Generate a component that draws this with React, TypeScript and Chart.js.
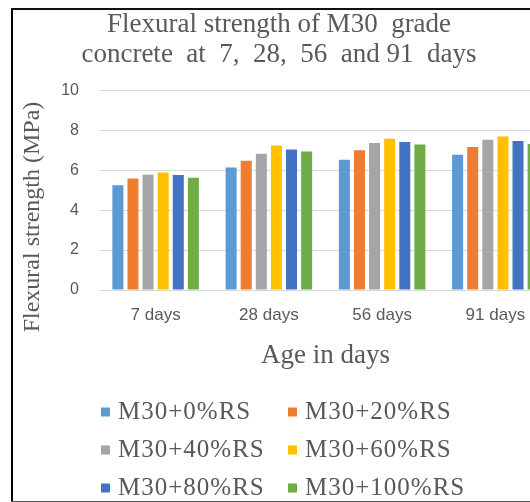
import React, { useEffect, useRef } from "react";
import { Chart, registerables } from "chart.js";

Chart.register(...registerables);

const titleLines = ["Flexural strength of M30  grade", "concrete  at  7,  28,  56  and 91  days"];
const xTitle = "Age in days";
const yTitle = "Flexural strength (MPa)";
const categories = ["7 days", "28 days", "56 days", "91 days"];
const seriesLabels = ["M30+0%RS", "M30+20%RS", "M30+40%RS", "M30+60%RS", "M30+80%RS", "M30+100%RS"];
const rs0 = [5.25, 6.14, 6.52, 6.77];
const rs20 = [5.59, 6.48, 7.0, 7.16];
const rs40 = [5.77, 6.82, 7.36, 7.53];
const rs60 = [5.89, 7.24, 7.58, 7.69];
const rs80 = [5.76, 7.04, 7.41, 7.47];
const rs100 = [5.62, 6.94, 7.29, 7.32];
const seriesValues = [rs0, rs20, rs40, rs60, rs80, rs100];
const seriesColors = ["#5B9BD5", "#ED7D31", "#A5A5A5", "#FFC000", "#4472C4", "#70AD47"];
const yMin = 0;
const yMax = 10;
const yStep = 2;

const TEXT = "#595959";
const SERIF = "'Liberation Serif', 'Times New Roman', serif";
const SANS = "'Liberation Sans', Arial, sans-serif";

const customText = {
  id: "customText",
  afterDraw(chart: any) {
    const ctx = chart.ctx;
    ctx.save();
    ctx.fillStyle = TEXT;
    ctx.font = `24px ${SERIF}`;
    ctx.textAlign = "center";
    ctx.textBaseline = "middle";
    ctx.translate(33, 217);
    ctx.rotate(-Math.PI / 2);
    ctx.fillText(yTitle, 0, 0);
    ctx.restore();

    ctx.save();
    ctx.font = `25px ${SERIF}`;
    try { (ctx as any).letterSpacing = "1px"; } catch (e) {}
    ctx.textAlign = "left";
    ctx.textBaseline = "middle";
    const colX = [101, 288];
    const rowY = [412, 450, 488];
    chart.data.datasets.forEach((ds: any, i: number) => {
      const c = i % 2;
      const r = Math.floor(i / 2);
      const x = colX[c];
      const y = rowY[r];
      ctx.fillStyle = ds.backgroundColor;
      ctx.fillRect(x, y - 4.5, 9, 9);
      ctx.fillStyle = TEXT;
      ctx.fillText(ds.label, x + 17, y);
    });
    ctx.restore();
  },
};

export default function App() {
  const ref = useRef<HTMLCanvasElement | null>(null);
  useEffect(() => {
    document.body.style.margin = "0";
    const canvas = ref.current!;
    const chart = new Chart(canvas, {
      type: "bar",
      data: {
        labels: categories,
        datasets: seriesValues.map((vals, i) => ({
          label: seriesLabels[i],
          data: vals,
          backgroundColor: seriesColors[i],
          borderWidth: 0,
          categoryPercentage: 0.8,
          barPercentage: 0.73,
        })),
      },
      options: {
        animation: false,
        responsive: false,
        devicePixelRatio: 1,
        layout: { padding: { left: 6, right: 0, top: 0, bottom: 128 } },
        plugins: {
          legend: { display: false },
          tooltip: { enabled: false },
          title: {
            display: true,
            text: titleLines,
            color: TEXT,
            font: { family: SERIF, size: 27, weight: "normal", lineHeight: 1.1 },
            padding: { top: 10, bottom: 21 },
          },
        },
        scales: {
          x: {
            grid: { display: false, drawTicks: false },
            border: { display: false },
            ticks: { color: TEXT, font: { family: SANS, size: 17 }, padding: 15 },
            title: {
              display: true,
              text: xTitle,
              color: TEXT,
              font: { family: SERIF, size: 27, lineHeight: 1.0 },
              padding: { top: 0, bottom: 5 },
            },
            afterFit: (s: any) => { s.height = 84; },
          },
          y: {
            min: yMin,
            max: yMax,
            ticks: { stepSize: yStep, color: TEXT, font: { family: SANS, size: 16 }, padding: 20 },
            grid: { color: "#d9d9d9", drawTicks: false },
            border: { display: false },
            afterFit: (s: any) => { s.width = 93; },
          },
        },
      },
      plugins: [customText],
    });
    return () => chart.destroy();
  }, []);

  return (
    <div style={{ position: "absolute", left: 0, top: 0, width: 530, height: 502, overflow: "hidden", background: "#fff" }}>
      <canvas ref={ref} width={552} height={502} style={{ position: "absolute", left: 0, top: 0, width: 552, height: 502 }} />
      <div style={{ position: "absolute", left: 11, top: 8, width: 2, height: 494, background: "#000" }} />
      <div style={{ position: "absolute", left: 11, top: 8, width: 519, height: 2, background: "#111" }} />
      <div style={{ position: "absolute", left: 11, top: 501, width: 519, height: 1, background: "#555" }} />
    </div>
  );
}
